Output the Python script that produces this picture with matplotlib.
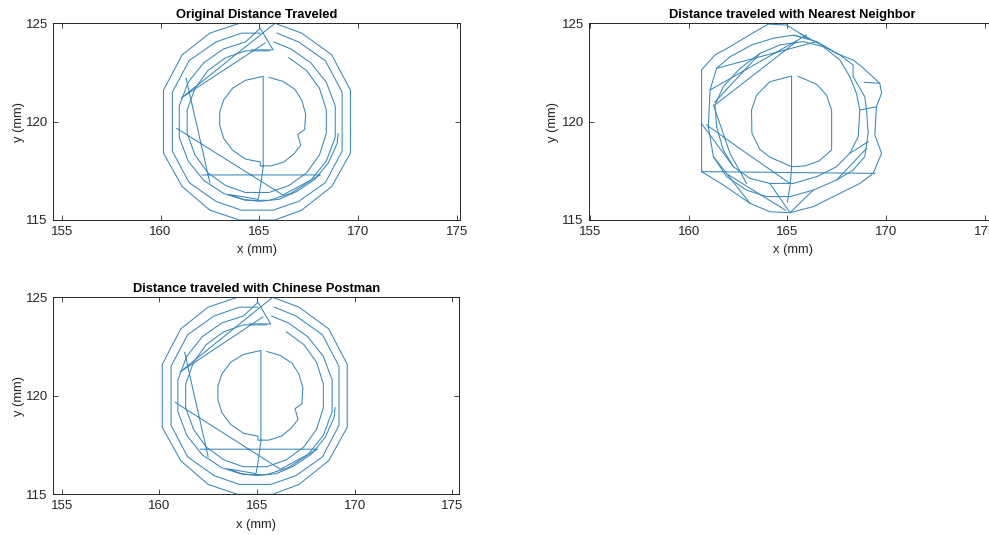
import numpy as np
import matplotlib
matplotlib.use("Agg")
import matplotlib.pyplot as plt

plt.rcParams['font.family'] = ['Liberation Sans', 'DejaVu Sans']

# ---------------- Original path (also reused for Chinese Postman) ----------------
orig_inner_x = [165.5, 166.2, 166.8, 167.15, 167.35, 167.3, 166.95, 167.1, 166.75, 166.25, 165.6, 165.05, 165.05,
                164.3, 163.65, 163.2, 163.0, 163.0, 163.2, 163.65, 164.3, 165.2, 165.2, 165.05, 164.95, 163.45,
                164.2, 165.0, 166.0, 166.9, 167.8, 168.5, 168.95, 169.0]
orig_inner_y = [122.25, 122.05, 121.65, 121.1, 120.4, 119.6, 119.35, 118.8, 118.35, 117.95, 117.75, 117.75, 117.95,
                118.1, 118.55, 119.15, 119.8, 120.5, 121.1, 121.7, 122.1, 122.3, 117.7, 116.6, 116.05, 116.3,
                116.05, 115.95, 116.05, 116.45, 117.05, 117.9, 118.9, 119.4]

orig_loop1_x = [164.87, 164.0, 162.5, 161.1, 160.15, 160.15, 161.1, 162.5, 164.0, 165.8, 167.15, 168.67,
                169.62, 169.62, 168.67, 167.15, 165.8, 161.05, 165.3]
orig_loop1_y = [125.0, 125.0, 124.5, 123.4, 121.6, 118.4, 116.7, 115.5, 115.0, 115.0, 115.5, 116.7,
                118.4, 121.6, 123.4, 124.5, 125.0, 121.2, 124.0]

orig_loop2_x = [165.9, 167.0, 168.35, 169.2, 169.2, 168.35, 167.0, 165.7, 164.1, 162.8, 161.45, 160.6,
                160.6, 161.45, 162.8, 164.1, 165.05]
orig_loop2_y = [124.5, 124.05, 123.1, 121.5, 118.5, 116.9, 115.95, 115.5, 115.5, 115.95, 116.9, 118.5,
                121.5, 123.1, 124.05, 124.5, 124.5]

orig_loop3_x = [165.75, 166.6, 167.6, 168.4, 168.85, 168.85, 168.4, 167.6, 166.6, 165.5, 164.3, 163.2,
                162.2, 161.4, 160.95, 160.95, 161.4, 162.2, 163.2, 164.3, 165.05, 165.7, 164.6]
orig_loop3_y = [124.05, 123.7, 123.0, 122.0, 120.8, 119.2, 118.0, 117.0, 116.35, 116.0, 116.0, 116.35,
                117.0, 118.0, 119.2, 120.8, 122.0, 123.0, 123.7, 124.05, 124.75, 123.65, 123.65]

orig_loop4_x = [166.5, 167.4, 168.05, 168.4, 168.4, 168.05, 167.4, 166.5, 165.5, 164.3, 163.3, 162.4,
                161.75, 161.35, 161.35, 161.75, 162.4, 163.3, 164.3, 165.5]
orig_loop4_y = [123.25, 122.6, 121.7, 120.6, 119.4, 118.3, 117.4, 116.75, 116.4, 116.4, 116.75, 117.4,
                118.3, 119.4, 120.6, 121.7, 122.6, 123.25, 123.6, 123.6]

orig_link_x = [161.3, 161.5, 162.5, np.nan, 160.82, 166.2, 168.1, 162.1]
orig_link_y = [122.2, 121.3, 116.9, np.nan, 119.66, 116.27, 117.29, 117.29]

# ---------------- Nearest neighbour path ----------------
nn_inner_x = [165.55, 166.48, 166.98, 167.24, 167.24, 166.6, 165.9, 165.21, 164.62, 164.1, 163.6, 163.2,
              163.18, 163.44, 164.11, 165.21, 165.21, 165.15, 165.0]
nn_inner_y = [122.3, 121.9, 121.35, 120.59, 118.56, 118.0, 117.75, 117.71, 117.97, 118.2, 118.6, 119.41,
              120.59, 121.35, 122.03, 122.32, 117.71, 116.85, 115.9]

nn_ringA_x = [160.65, 160.65, 161.33, 162.09, 162.93, 164.03, 164.96, 165.63, 167.49, 168.33, 168.76, 169.68,
              169.77, 169.51, 169.43, 169.77, 169.35, 168.67, 167.49, 166.31, 165.13, 164.11, 163.1, 161.75,
              160.65, 169.43]
nn_ringA_y = [117.46, 122.63, 123.39, 123.81, 124.32, 124.96, 124.91, 124.49, 123.47, 123.13, 122.8, 121.95,
              121.44, 120.76, 119.32, 118.39, 117.37, 116.86, 116.27, 115.68, 115.37, 115.42, 115.85, 116.78,
              117.46, 117.37]

nn_ringB_x = [160.99, 161.08, 161.41, 162.09, 163.19, 164.28, 165.3, 166.48, 167.66, 168.33, 168.33, 168.92,
              169.01, 169.09, 168.92, 168.33, 167.49, 166.31, 165.13, 163.95, 162.93, 161.92, 161.25, 160.99]
nn_ringB_y = [119.74, 121.61, 122.71, 123.3, 123.9, 124.24, 124.4, 124.07, 123.39, 122.88, 122.29, 121.27,
              120.59, 119.41, 118.22, 117.54, 117.03, 116.52, 116.19, 116.19, 116.52, 117.2, 118.22, 119.74]

nn_ringC_x = [161.41, 161.33, 161.75, 162.6, 163.61, 164.62, 165.8, 166.81, 167.66, 168.16, 168.5, 168.67,
              168.59, 168.16, 167.49, 166.48, 165.3, 164.11, 163.1, 162.26, 161.75, 161.41]
nn_ringC_y = [119.74, 120.85, 121.78, 122.71, 123.47, 123.9, 124.07, 123.81, 123.13, 122.29, 121.44, 120.59,
              119.24, 118.39, 117.71, 117.2, 116.86, 116.86, 117.12, 117.71, 118.56, 119.74]

nn_link_x = [161.08, 165.97, np.nan, 161.33, 165.46, np.nan, 160.91, 162.93, 165.13, np.nan,
             161.25, 162.09, 162.93, np.nan, 168.16, 169.09, np.nan, 167.49, 169.01, np.nan,
             164.11, 165.13, 166.31, np.nan, 161.41, 166.48, np.nan, 161.33, 163.61, np.nan,
             160.65, 162.26, np.nan, 161.25, 163.1, np.nan, 162.0, 164.9, np.nan,
             168.67, 169.51, np.nan, 168.9, 169.68, np.nan, 165.63, 166.1, 165.3]
nn_link_y = [121.61, 124.4, np.nan, 120.85, 124.07, np.nan, 119.83, 118.39, 116.86, np.nan,
             120.85, 118.39, 116.86, np.nan, 118.39, 118.98, np.nan, 117.03, 118.64, np.nan,
             116.86, 115.37, 116.52, np.nan, 122.71, 124.07, np.nan, 121.0, 123.47, np.nan,
             119.9, 117.71, np.nan, 118.22, 115.85, np.nan, 117.3, 115.5, np.nan,
             120.59, 120.76, np.nan, 122.0, 121.95, np.nan, 124.49, 124.2, 124.4]

titles = ["Original Distance Traveled", "Distance traveled with Nearest Neighbor",
          "Distance traveled with Chinese Postman"]
x_ticks = [155, 160, 165, 170, 175]
y_ticks = [115, 120, 125]

orig_paths = [(orig_inner_x, orig_inner_y), (orig_loop1_x, orig_loop1_y), (orig_loop2_x, orig_loop2_y),
              (orig_loop3_x, orig_loop3_y), (orig_loop4_x, orig_loop4_y), (orig_link_x, orig_link_y)]
nn_paths = [(nn_inner_x, nn_inner_y), (nn_ringA_x, nn_ringA_y), (nn_ringB_x, nn_ringB_y),
            (nn_ringC_x, nn_ringC_y), (nn_link_x, nn_link_y)]

W, H = 989, 535
fig = plt.figure(figsize=(W / 100, H / 100), dpi=100)

def px_axes(l, t, r, b):
    return fig.add_axes([l / W, 1 - b / H, (r - l) / W, (b - t) / H])

specs = [
    (px_axes(53.3, 23.3, 460, 220), orig_paths, titles[0], (154.57, 175.17), -0.069),
    (px_axes(589.3, 23.3, 996.0, 220), nn_paths, titles[1], (154.96, 175.57), -0.074),
    (px_axes(53.3, 297.3, 459.3, 494.3), orig_paths, titles[2], (154.57, 175.36), -0.069),
]

line_col = '#3a87ba'
dark = '#262626'
for ax, paths, title, xl, ylx in specs:
    for px, py in paths:
        ax.plot(px, py, color=line_col, lw=0.75)
    ax.set_xlim(*xl)
    ax.set_ylim(115, 125)
    ax.set_xticks(x_ticks)
    ax.set_yticks(y_ticks)
    ax.tick_params(direction='in', top=True, right=True, length=3.5, width=0.6,
                   labelsize=9.5, colors=dark, pad=4)
    for s in ax.spines.values():
        s.set_color(dark)
        s.set_linewidth(0.7)
    ax.set_xlabel('x (mm)', fontsize=9.3, color=dark, labelpad=5)
    ax.set_ylabel('y (mm)', fontsize=9.3, color=dark)
    ax.yaxis.set_label_coords(ylx, 0.5)
    ax.set_title(title, fontsize=9.3, fontweight='bold', color='black', pad=4)

fig.savefig('out.png', dpi=100)
